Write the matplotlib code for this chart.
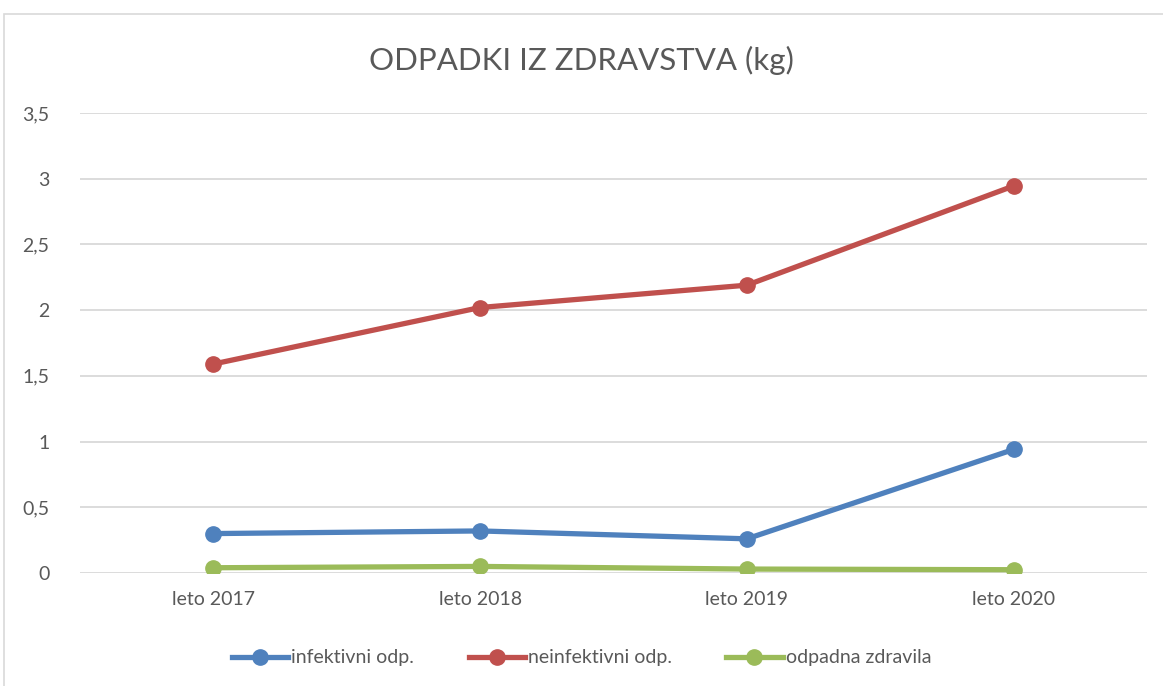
import matplotlib.pyplot as plt
from matplotlib.patches import Rectangle
from matplotlib.ticker import FuncFormatter

# podatki
leta = ['leto 2017', 'leto 2018', 'leto 2019', 'leto 2020']
infektivni = [0.30, 0.32, 0.26, 0.94]
neinfektivni = [1.59, 2.02, 2.19, 2.945]
zdravila = [0.04, 0.05, 0.03, 0.025]

siva = '#595959'
plt.rcParams['font.family'] = ['Lato', 'DejaVu Sans']

fig = plt.figure(figsize=(11.63, 6.86), dpi=100)
# okvir grafa
fig.patches.append(Rectangle((4/1163, -0.1), 1.2, 1 - 14/686 + 0.1,
                             transform=fig.transFigure, fill=False,
                             edgecolor='#D9D9D9', linewidth=1.2))

ax = fig.add_axes([80/1163, 113/686, 1067/1163, 460/686])
x = range(len(leta))
ax.plot(x, infektivni, color='#4F81BD', lw=3.8, marker='o', ms=11, label='infektivni odp.')
ax.plot(x, neinfektivni, color='#C0504D', lw=3.8, marker='o', ms=11, label='neinfektivni odp.')
ax.plot(x, zdravila, color='#9BBB59', lw=3.8, marker='o', ms=11, label='odpadna zdravila')

ax.set_xlim(-0.5, 3.5)
ax.set_ylim(0, 3.5)
ax.set_yticks([0, 0.5, 1, 1.5, 2, 2.5, 3, 3.5])
ax.yaxis.set_major_formatter(FuncFormatter(lambda v, p: ('%g' % v).replace('.', ',')))
ax.set_xticks(list(x))
ax.set_xticklabels(leta)
ax.tick_params(length=0, labelsize=14, labelcolor=siva)
ax.tick_params(axis='x', pad=13)
ax.tick_params(axis='y', pad=22)
ax.grid(axis='y', color='#D9D9D9', lw=1.3)
ax.set_axisbelow(True)
for s in ax.spines.values():
    s.set_visible(False)

fig.text(0.5, 1 - 60/686, 'ODPADKI IZ ZDRAVSTVA (kg)', ha='center', va='center',
         fontsize=22.5, color=siva)

ax.legend(loc='center', bbox_to_anchor=(0.5, 1 - 658/686), bbox_transform=fig.transFigure,
          ncol=3, frameon=False, fontsize=14, labelcolor=siva, handlelength=2.9,
          handletextpad=0.15, columnspacing=2.8)

fig.savefig('out.png', dpi=100)
